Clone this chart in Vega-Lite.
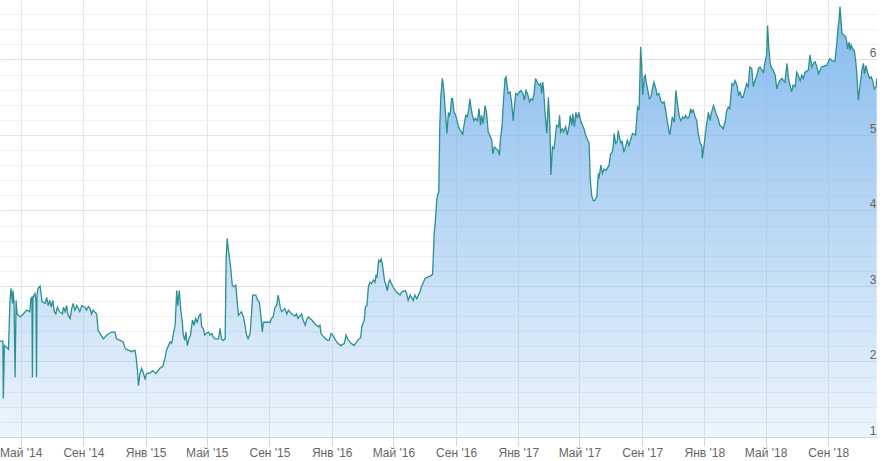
{
"$schema": "https://vega.github.io/schema/vega-lite/v6.json",
"width": 877, "height": 437,
"autosize": {"type": "none"},
"padding": {"left": 0, "top": 0, "right": 7, "bottom": 24},
"background": "white",
"config": {"view": {"stroke": null}},
"data": {"values": [
{"d":"2014-03-21","v":2.27},{"d":"2014-03-27","v":2.27},{"d":"2014-03-28","v":1.51},{"d":"2014-03-30","v":2.21},{"d":"2014-04-03","v":2.19},{"d":"2014-04-07","v":2.16},{"d":"2014-04-10","v":2.81},{"d":"2014-04-12","v":2.97},{"d":"2014-04-15","v":2.77},{"d":"2014-04-16","v":2.94},{"d":"2014-04-18","v":2.77},{"d":"2014-04-20","v":1.79},{"d":"2014-04-22","v":2.81},{"d":"2014-04-24","v":2.63},{"d":"2014-04-30","v":2.59},{"d":"2014-05-06","v":2.63},{"d":"2014-05-13","v":2.68},{"d":"2014-05-19","v":2.66},{"d":"2014-05-21","v":2.83},{"d":"2014-05-23","v":2.85},{"d":"2014-05-24","v":1.79},{"d":"2014-05-25","v":2.85},{"d":"2014-05-29","v":2.90},{"d":"2014-05-31","v":2.81},{"d":"2014-06-01","v":1.79},{"d":"2014-06-02","v":2.88},{"d":"2014-06-04","v":2.97},{"d":"2014-06-08","v":3.00},{"d":"2014-06-12","v":2.79},{"d":"2014-06-18","v":2.77},{"d":"2014-06-21","v":2.85},{"d":"2014-06-24","v":2.74},{"d":"2014-06-27","v":2.81},{"d":"2014-06-30","v":2.72},{"d":"2014-07-03","v":2.81},{"d":"2014-07-06","v":2.66},{"d":"2014-07-09","v":2.63},{"d":"2014-07-12","v":2.72},{"d":"2014-07-16","v":2.66},{"d":"2014-07-22","v":2.63},{"d":"2014-07-24","v":2.72},{"d":"2014-07-27","v":2.66},{"d":"2014-07-30","v":2.74},{"d":"2014-08-02","v":2.61},{"d":"2014-08-06","v":2.57},{"d":"2014-08-09","v":2.70},{"d":"2014-08-12","v":2.77},{"d":"2014-08-15","v":2.68},{"d":"2014-08-19","v":2.74},{"d":"2014-08-25","v":2.66},{"d":"2014-08-29","v":2.74},{"d":"2014-09-04","v":2.72},{"d":"2014-09-07","v":2.68},{"d":"2014-09-11","v":2.73},{"d":"2014-09-14","v":2.70},{"d":"2014-09-17","v":2.63},{"d":"2014-09-20","v":2.68},{"d":"2014-09-27","v":2.63},{"d":"2014-09-30","v":2.41},{"d":"2014-10-04","v":2.37},{"d":"2014-10-10","v":2.30},{"d":"2014-10-17","v":2.35},{"d":"2014-10-26","v":2.39},{"d":"2014-11-02","v":2.39},{"d":"2014-11-05","v":2.30},{"d":"2014-11-12","v":2.28},{"d":"2014-11-18","v":2.26},{"d":"2014-11-22","v":2.17},{"d":"2014-11-28","v":2.15},{"d":"2014-12-05","v":2.13},{"d":"2014-12-11","v":2.15},{"d":"2014-12-13","v":2.08},{"d":"2014-12-16","v":1.88},{"d":"2014-12-18","v":1.68},{"d":"2014-12-21","v":1.84},{"d":"2014-12-24","v":1.91},{"d":"2014-12-27","v":1.86},{"d":"2014-12-31","v":1.77},{"d":"2015-01-03","v":1.84},{"d":"2015-01-10","v":1.85},{"d":"2015-01-15","v":1.88},{"d":"2015-01-21","v":1.84},{"d":"2015-01-29","v":1.91},{"d":"2015-02-04","v":1.94},{"d":"2015-02-08","v":2.04},
{"d":"2015-02-11","v":2.15},{"d":"2015-02-18","v":2.26},{"d":"2015-02-21","v":2.24},{"d":"2015-02-24","v":2.35},{"d":"2015-02-28","v":2.48},{"d":"2015-03-03","v":2.94},{"d":"2015-03-05","v":2.74},{"d":"2015-03-08","v":2.94},{"d":"2015-03-11","v":2.68},{"d":"2015-03-14","v":2.52},{"d":"2015-03-16","v":2.35},{"d":"2015-03-19","v":2.28},{"d":"2015-03-21","v":2.39},{"d":"2015-03-24","v":2.21},{"d":"2015-03-27","v":2.30},{"d":"2015-03-30","v":2.35},{"d":"2015-04-03","v":2.55},{"d":"2015-04-06","v":2.48},{"d":"2015-04-09","v":2.57},{"d":"2015-04-12","v":2.52},{"d":"2015-04-16","v":2.61},{"d":"2015-04-19","v":2.63},{"d":"2015-04-21","v":2.46},{"d":"2015-04-24","v":2.44},{"d":"2015-04-27","v":2.35},{"d":"2015-04-30","v":2.37},{"d":"2015-05-04","v":2.39},{"d":"2015-05-07","v":2.35},{"d":"2015-05-11","v":2.37},{"d":"2015-05-14","v":2.32},{"d":"2015-05-17","v":2.30},{"d":"2015-05-24","v":2.30},{"d":"2015-05-27","v":2.44},{"d":"2015-05-30","v":2.30},{"d":"2015-06-02","v":2.28},{"d":"2015-06-06","v":2.30},{"d":"2015-06-08","v":3.36},{"d":"2015-06-10","v":3.63},{"d":"2015-06-12","v":3.50},{"d":"2015-06-14","v":3.41},{"d":"2015-06-17","v":3.23},{"d":"2015-06-20","v":3.01},{"d":"2015-06-23","v":2.99},{"d":"2015-06-27","v":3.01},{"d":"2015-06-29","v":2.85},{"d":"2015-07-02","v":2.61},{"d":"2015-07-08","v":2.66},{"d":"2015-07-12","v":2.59},{"d":"2015-07-15","v":2.48},{"d":"2015-07-18","v":2.35},{"d":"2015-07-21","v":2.30},{"d":"2015-07-25","v":2.37},{"d":"2015-07-28","v":2.66},{"d":"2015-07-30","v":2.88},{"d":"2015-08-05","v":2.88},{"d":"2015-08-09","v":2.81},{"d":"2015-08-12","v":2.79},{"d":"2015-08-15","v":2.61},{"d":"2015-08-18","v":2.39},{"d":"2015-08-20","v":2.52},{"d":"2015-08-26","v":2.52},{"d":"2015-09-02","v":2.52},{"d":"2015-09-05","v":2.57},{"d":"2015-09-08","v":2.59},{"d":"2015-09-12","v":2.72},{"d":"2015-09-15","v":2.74},{"d":"2015-09-18","v":2.88},{"d":"2015-09-22","v":2.72},{"d":"2015-09-25","v":2.66},{"d":"2015-10-01","v":2.70},{"d":"2015-10-05","v":2.63},{"d":"2015-10-08","v":2.68},{"d":"2015-10-15","v":2.63},{"d":"2015-10-21","v":2.60},
{"d":"2015-10-24","v":2.63},{"d":"2015-10-27","v":2.57},{"d":"2015-11-03","v":2.63},{"d":"2015-11-06","v":2.55},{"d":"2015-11-10","v":2.48},{"d":"2015-11-13","v":2.55},{"d":"2015-11-16","v":2.59},{"d":"2015-11-23","v":2.55},{"d":"2015-11-29","v":2.50},{"d":"2015-12-06","v":2.46},{"d":"2015-12-09","v":2.48},{"d":"2015-12-11","v":2.37},{"d":"2015-12-17","v":2.32},{"d":"2015-12-24","v":2.28},{"d":"2015-12-27","v":2.28},{"d":"2015-12-31","v":2.37},{"d":"2016-01-03","v":2.35},{"d":"2016-01-09","v":2.28},{"d":"2016-01-13","v":2.24},{"d":"2016-01-19","v":2.21},{"d":"2016-01-26","v":2.24},{"d":"2016-01-29","v":2.35},{"d":"2016-02-01","v":2.30},{"d":"2016-02-08","v":2.24},{"d":"2016-02-14","v":2.21},{"d":"2016-02-21","v":2.28},{"d":"2016-02-27","v":2.32},{"d":"2016-02-29","v":2.46},{"d":"2016-03-05","v":2.55},{"d":"2016-03-07","v":2.72},{"d":"2016-03-10","v":2.74},{"d":"2016-03-13","v":2.99},{"d":"2016-03-16","v":3.05},{"d":"2016-03-19","v":3.03},{"d":"2016-03-23","v":3.08},{"d":"2016-03-26","v":3.05},{"d":"2016-03-28","v":3.14},{"d":"2016-03-30","v":3.12},{"d":"2016-04-02","v":3.34},{"d":"2016-04-05","v":3.32},{"d":"2016-04-07","v":3.36},{"d":"2016-04-09","v":3.30},{"d":"2016-04-11","v":3.21},{"d":"2016-04-14","v":3.05},{"d":"2016-04-16","v":3.03},{"d":"2016-04-19","v":2.94},{"d":"2016-04-22","v":3.05},{"d":"2016-04-24","v":3.08},{"d":"2016-04-30","v":2.99},{"d":"2016-05-07","v":2.92},{"d":"2016-05-14","v":2.88},{"d":"2016-05-17","v":2.92},{"d":"2016-05-24","v":2.94},{"d":"2016-05-27","v":2.90},{"d":"2016-05-30","v":2.81},{"d":"2016-06-03","v":2.88},{"d":"2016-06-09","v":2.81},{"d":"2016-06-12","v":2.88},{"d":"2016-06-16","v":2.83},{"d":"2016-06-19","v":2.88},{"d":"2016-06-22","v":2.92},{"d":"2016-06-25","v":2.99},{"d":"2016-06-29","v":3.05},{"d":"2016-07-02","v":3.10},{"d":"2016-07-08","v":3.12},{"d":"2016-07-15","v":3.14},{"d":"2016-07-17","v":3.16},{"d":"2016-07-20","v":3.69},{"d":"2016-07-22","v":3.83},{"d":"2016-07-25","v":4.13},{"d":"2016-07-27","v":4.22},{"d":"2016-07-29","v":4.24},{"d":"2016-07-31","v":5.11},{"d":"2016-08-02","v":5.50},{"d":"2016-08-05","v":5.75},{"d":"2016-08-07","v":5.66},{"d":"2016-08-09","v":5.50},{"d":"2016-08-12","v":5.22},{"d":"2016-08-14","v":5.02},
{"d":"2016-08-17","v":5.30},{"d":"2016-08-19","v":5.26},{"d":"2016-08-21","v":5.30},{"d":"2016-08-23","v":5.48},{"d":"2016-08-25","v":5.48},{"d":"2016-08-28","v":5.30},{"d":"2016-08-30","v":5.28},{"d":"2016-09-02","v":5.22},{"d":"2016-09-05","v":5.13},{"d":"2016-09-09","v":5.06},{"d":"2016-09-12","v":5.04},{"d":"2016-09-14","v":5.00},{"d":"2016-09-16","v":5.11},{"d":"2016-09-20","v":5.26},{"d":"2016-09-23","v":5.24},{"d":"2016-09-26","v":5.35},{"d":"2016-09-28","v":5.48},{"d":"2016-09-30","v":5.37},{"d":"2016-10-03","v":5.26},{"d":"2016-10-06","v":5.19},{"d":"2016-10-09","v":5.22},{"d":"2016-10-13","v":5.19},{"d":"2016-10-16","v":5.35},{"d":"2016-10-19","v":5.13},{"d":"2016-10-21","v":5.26},{"d":"2016-10-24","v":5.15},{"d":"2016-10-28","v":5.39},{"d":"2016-10-31","v":5.28},{"d":"2016-11-03","v":5.04},{"d":"2016-11-06","v":5.00},{"d":"2016-11-10","v":4.93},{"d":"2016-11-12","v":4.75},{"d":"2016-11-15","v":4.84},{"d":"2016-11-18","v":4.82},{"d":"2016-11-22","v":4.80},{"d":"2016-11-25","v":4.73},{"d":"2016-11-27","v":4.95},{"d":"2016-11-30","v":5.11},{"d":"2016-12-03","v":5.46},{"d":"2016-12-06","v":5.75},{"d":"2016-12-08","v":5.77},{"d":"2016-12-10","v":5.66},{"d":"2016-12-12","v":5.55},{"d":"2016-12-16","v":5.57},{"d":"2016-12-19","v":5.42},{"d":"2016-12-22","v":5.19},{"d":"2016-12-24","v":5.35},{"d":"2016-12-27","v":5.55},{"d":"2016-12-30","v":5.53},{"d":"2017-01-03","v":5.57},{"d":"2017-01-06","v":5.59},{"d":"2017-01-10","v":5.55},{"d":"2017-01-13","v":5.46},{"d":"2017-01-16","v":5.59},{"d":"2017-01-19","v":5.55},{"d":"2017-01-23","v":5.44},{"d":"2017-01-26","v":5.48},{"d":"2017-01-29","v":5.46},{"d":"2017-02-01","v":5.55},{"d":"2017-02-04","v":5.75},{"d":"2017-02-07","v":5.70},{"d":"2017-02-11","v":5.66},{"d":"2017-02-14","v":5.68},{"d":"2017-02-16","v":5.55},{"d":"2017-02-18","v":5.70},{"d":"2017-02-20","v":5.57},{"d":"2017-02-22","v":5.33},{"d":"2017-02-26","v":5.02},{"d":"2017-03-01","v":5.50},{"d":"2017-03-04","v":5.13},{"d":"2017-03-06","v":4.47},{"d":"2017-03-09","v":4.84},{"d":"2017-03-12","v":4.82},{"d":"2017-03-14","v":4.93},{"d":"2017-03-17","v":5.13},{"d":"2017-03-21","v":5.11},{"d":"2017-03-23","v":5.26},{"d":"2017-03-25","v":5.04},{"d":"2017-03-28","v":5.08},{"d":"2017-03-31","v":5.04},{"d":"2017-04-04","v":5.11},{"d":"2017-04-07","v":5.00},{"d":"2017-04-11","v":5.13},{"d":"2017-04-13","v":5.26},{"d":"2017-04-16","v":5.13},{"d":"2017-04-18","v":5.28},{"d":"2017-04-21","v":5.11},{"d":"2017-04-24","v":5.30},{"d":"2017-04-27","v":5.22},{"d":"2017-04-30","v":5.30},{"d":"2017-05-04","v":5.17},{"d":"2017-05-07","v":5.13},{"d":"2017-05-10","v":5.08},{"d":"2017-05-13","v":5.00},{"d":"2017-05-16","v":4.95},{"d":"2017-05-20","v":4.89},{"d":"2017-05-22","v":4.42},{"d":"2017-05-25","v":4.20},{"d":"2017-05-28","v":4.13},{"d":"2017-05-31","v":4.13},{"d":"2017-06-04","v":4.18},{"d":"2017-06-07","v":4.49},
{"d":"2017-06-08","v":4.42},{"d":"2017-06-12","v":4.60},{"d":"2017-06-15","v":4.49},{"d":"2017-06-18","v":4.55},{"d":"2017-06-22","v":4.53},{"d":"2017-06-28","v":4.60},{"d":"2017-07-01","v":4.75},{"d":"2017-07-04","v":4.77},{"d":"2017-07-06","v":4.84},{"d":"2017-07-08","v":5.02},{"d":"2017-07-11","v":4.89},{"d":"2017-07-14","v":4.91},{"d":"2017-07-16","v":5.06},{"d":"2017-07-19","v":4.95},{"d":"2017-07-22","v":4.89},{"d":"2017-07-24","v":4.91},{"d":"2017-07-27","v":4.77},{"d":"2017-07-31","v":4.86},{"d":"2017-08-03","v":4.93},{"d":"2017-08-06","v":4.86},{"d":"2017-08-10","v":4.95},{"d":"2017-08-13","v":5.02},{"d":"2017-08-19","v":5.00},{"d":"2017-08-23","v":5.37},{"d":"2017-08-26","v":5.33},{"d":"2017-08-29","v":6.17},{"d":"2017-08-31","v":5.90},{"d":"2017-09-02","v":5.53},{"d":"2017-09-05","v":5.77},{"d":"2017-09-07","v":5.79},{"d":"2017-09-09","v":5.70},{"d":"2017-09-12","v":5.59},{"d":"2017-09-15","v":5.48},{"d":"2017-09-18","v":5.50},{"d":"2017-09-22","v":5.64},{"d":"2017-09-24","v":5.70},{"d":"2017-09-28","v":5.61},{"d":"2017-09-30","v":5.53},{"d":"2017-10-04","v":5.55},{"d":"2017-10-07","v":5.46},{"d":"2017-10-11","v":5.42},{"d":"2017-10-14","v":5.44},{"d":"2017-10-17","v":5.33},{"d":"2017-10-20","v":5.19},{"d":"2017-10-22","v":5.11},{"d":"2017-10-25","v":5.00},{"d":"2017-10-28","v":5.13},{"d":"2017-10-30","v":5.24},{"d":"2017-11-03","v":5.17},{"d":"2017-11-06","v":5.59},{"d":"2017-11-08","v":5.48},{"d":"2017-11-11","v":5.33},{"d":"2017-11-13","v":5.24},{"d":"2017-11-16","v":5.19},{"d":"2017-11-20","v":5.24},{"d":"2017-11-23","v":5.22},{"d":"2017-11-25","v":5.26},{"d":"2017-11-29","v":5.22},{"d":"2017-12-02","v":5.24},{"d":"2017-12-05","v":5.35},{"d":"2017-12-07","v":5.30},{"d":"2017-12-10","v":5.33},{"d":"2017-12-14","v":5.24},{"d":"2017-12-17","v":5.19},{"d":"2017-12-20","v":5.02},{"d":"2017-12-24","v":4.89},{"d":"2017-12-27","v":4.86},{"d":"2017-12-28","v":4.69},{"d":"2017-12-31","v":4.84},{"d":"2018-01-03","v":5.02},{"d":"2018-01-06","v":5.17},{"d":"2018-01-09","v":5.30},{"d":"2018-01-12","v":5.19},{"d":"2018-01-15","v":5.30},{"d":"2018-01-19","v":5.39},{"d":"2018-01-22","v":5.33},{"d":"2018-01-25","v":5.26},{"d":"2018-01-28","v":5.22},{"d":"2018-01-31","v":5.13},{"d":"2018-02-04","v":5.11},{"d":"2018-02-07","v":5.08},{"d":"2018-02-11","v":5.19},{"d":"2018-02-14","v":5.33},{"d":"2018-02-17","v":5.37},{"d":"2018-02-20","v":5.35},{"d":"2018-02-24","v":5.68},{"d":"2018-02-27","v":5.66},{"d":"2018-03-02","v":5.72},{"d":"2018-03-06","v":5.66},{"d":"2018-03-09","v":5.53},{"d":"2018-03-12","v":5.57},{"d":"2018-03-15","v":5.50},{"d":"2018-03-18","v":5.50},
{"d":"2018-03-22","v":5.61},{"d":"2018-03-25","v":5.68},{"d":"2018-03-28","v":5.64},{"d":"2018-03-31","v":5.90},{"d":"2018-04-04","v":5.88},{"d":"2018-04-07","v":5.64},{"d":"2018-04-10","v":5.72},{"d":"2018-04-14","v":5.79},{"d":"2018-04-17","v":5.88},{"d":"2018-04-20","v":5.90},{"d":"2018-04-24","v":5.86},{"d":"2018-04-27","v":5.83},{"d":"2018-04-30","v":5.97},{"d":"2018-05-03","v":6.06},{"d":"2018-05-05","v":6.45},{"d":"2018-05-07","v":6.19},{"d":"2018-05-10","v":5.95},{"d":"2018-05-13","v":5.88},{"d":"2018-05-16","v":5.86},{"d":"2018-05-20","v":5.79},{"d":"2018-05-23","v":5.61},{"d":"2018-05-26","v":5.68},{"d":"2018-05-29","v":5.72},{"d":"2018-06-02","v":5.75},{"d":"2018-06-05","v":5.72},{"d":"2018-06-08","v":5.70},{"d":"2018-06-12","v":5.95},{"d":"2018-06-15","v":5.75},{"d":"2018-06-18","v":5.66},{"d":"2018-06-21","v":5.57},{"d":"2018-06-24","v":5.66},{"d":"2018-06-28","v":5.64},{"d":"2018-07-01","v":5.83},{"d":"2018-07-04","v":5.79},{"d":"2018-07-08","v":5.72},{"d":"2018-07-11","v":5.79},{"d":"2018-07-14","v":5.75},{"d":"2018-07-17","v":5.83},{"d":"2018-07-24","v":5.86},{"d":"2018-07-27","v":6.06},{"d":"2018-07-31","v":5.90},{"d":"2018-08-03","v":5.95},{"d":"2018-08-06","v":5.97},{"d":"2018-08-09","v":5.92},{"d":"2018-08-13","v":5.81},{"d":"2018-08-16","v":5.86},{"d":"2018-08-19","v":5.90},{"d":"2018-08-26","v":5.92},{"d":"2018-08-29","v":5.92},{"d":"2018-09-01","v":5.97},{"d":"2018-09-04","v":6.01},{"d":"2018-09-08","v":5.99},{"d":"2018-09-14","v":5.97},{"d":"2018-09-18","v":6.23},{"d":"2018-09-20","v":6.41},{"d":"2018-09-22","v":6.52},{"d":"2018-09-24","v":6.70},{"d":"2018-09-26","v":6.52},{"d":"2018-09-28","v":6.34},{"d":"2018-10-02","v":6.32},{"d":"2018-10-05","v":6.30},{"d":"2018-10-07","v":6.25},{"d":"2018-10-09","v":6.14},{"d":"2018-10-12","v":6.23},{"d":"2018-10-14","v":6.12},{"d":"2018-10-16","v":6.19},{"d":"2018-10-19","v":6.14},{"d":"2018-10-22","v":6.12},{"d":"2018-10-25","v":5.97},{"d":"2018-10-27","v":5.81},{"d":"2018-10-30","v":5.46},{"d":"2018-11-02","v":5.64},{"d":"2018-11-06","v":5.86},{"d":"2018-11-09","v":5.95},{"d":"2018-11-11","v":5.81},{"d":"2018-11-14","v":5.92},{"d":"2018-11-17","v":5.83},{"d":"2018-11-21","v":5.75},{"d":"2018-11-24","v":5.77},{"d":"2018-11-27","v":5.72},{"d":"2018-11-30","v":5.61},{"d":"2018-12-04","v":5.64},{"d":"2018-12-05","v":5.75}
]},
"encoding": {
  "x": {"field": "d", "type": "temporal",
    "scale": {"type": "utc", "domain": [{"year": 2014, "month": 3, "date": 21, "hours": 10, "utc": true}, {"year": 2018, "month": 12, "date": 5, "hours": 14, "utc": true}]},
    "axis": {
      "values": [
        {"year": 2014, "month": 5, "date": 1, "utc": true}, {"year": 2014, "month": 9, "date": 1, "utc": true},
        {"year": 2015, "month": 1, "date": 1, "utc": true}, {"year": 2015, "month": 5, "date": 1, "utc": true}, {"year": 2015, "month": 9, "date": 1, "utc": true},
        {"year": 2016, "month": 1, "date": 1, "utc": true}, {"year": 2016, "month": 5, "date": 1, "utc": true}, {"year": 2016, "month": 9, "date": 1, "utc": true},
        {"year": 2017, "month": 1, "date": 1, "utc": true}, {"year": 2017, "month": 5, "date": 1, "utc": true}, {"year": 2017, "month": 9, "date": 1, "utc": true},
        {"year": 2018, "month": 1, "date": 1, "utc": true}, {"year": 2018, "month": 5, "date": 1, "utc": true}, {"year": 2018, "month": 9, "date": 1, "utc": true}
      ],
      "labelExpr": "['Янв','Фев','Мар','Апр','Май','Июн','Июл','Авг','Сен','Окт','Ноя','Дек'][utcmonth(datum.value)] + \" '\" + utcFormat(datum.value, '%y')",
      "title": null,
      "grid": true, "gridColor": "#e6e6e6", "gridWidth": 1,
      "domainColor": "#ccd6eb", "domainWidth": 1,
      "tickColor": "#ccd6eb", "tickSize": 9, "tickWidth": 1,
      "labelFont": "Liberation Sans", "labelFontSize": 12, "labelColor": "#666666",
      "labelPadding": 1, "labelFlush": false, "labelOverlap": false, "labelAngle": 0,
      "zindex": 0
    }
  }
},
"layer": [
  {
    "mark": {"type": "area", "clip": true,
      "color": {"gradient": "linear", "x1": 0, "y1": 0, "x2": 0, "y2": 1,
        "stops": [{"offset": 0, "color": "rgba(124,181,236,0.92)"}, {"offset": 1, "color": "rgba(124,181,236,0.0)"}]}},
    "encoding": {
      "y": {"field": "v", "type": "quantitative",
        "scale": {"domain": [1, 6.788], "nice": false, "zero": false},
        "axis": {"orient": "right", "title": null,
          "values": [1, 1.2, 1.4, 1.6, 1.8, 2, 2.2, 2.4, 2.6, 2.8, 3, 3.2, 3.4, 3.6, 3.8, 4, 4.2, 4.4, 4.6, 4.8, 5, 5.2, 5.4, 5.6, 5.8, 6, 6.2, 6.4, 6.6],
          "grid": true,
          "gridColor": {"condition": {"test": "datum.value % 1 === 0", "value": "#e3e3e3"}, "value": "#f0f0f0"},
          "labels": false, "ticks": false, "tickSize": 0, "domain": false, "zindex": 0}
      }
    }
  },
  {
    "mark": {"type": "line", "clip": true, "color": "#2b908f", "strokeWidth": 1.3},
    "encoding": {
      "y": {"field": "v", "type": "quantitative",
        "scale": {"domain": [1, 6.788], "nice": false, "zero": false},
        "axis": {"orient": "right", "title": null, "values": [1, 2, 3, 4, 5, 6],
          "grid": false, "ticks": false, "tickSize": 0, "domain": false,
          "labelAlign": "right", "labelBaseline": "alphabetic", "labelOffset": -2.5, "labelPadding": -1,
          "labelFont": "Liberation Sans", "labelFontSize": 12, "labelColor": "#666666",
          "labelFlush": false, "labelOverlap": false, "zindex": 1}
      }
    }
  }
],
"resolve": {"axis": {"y": "independent"}}
}
